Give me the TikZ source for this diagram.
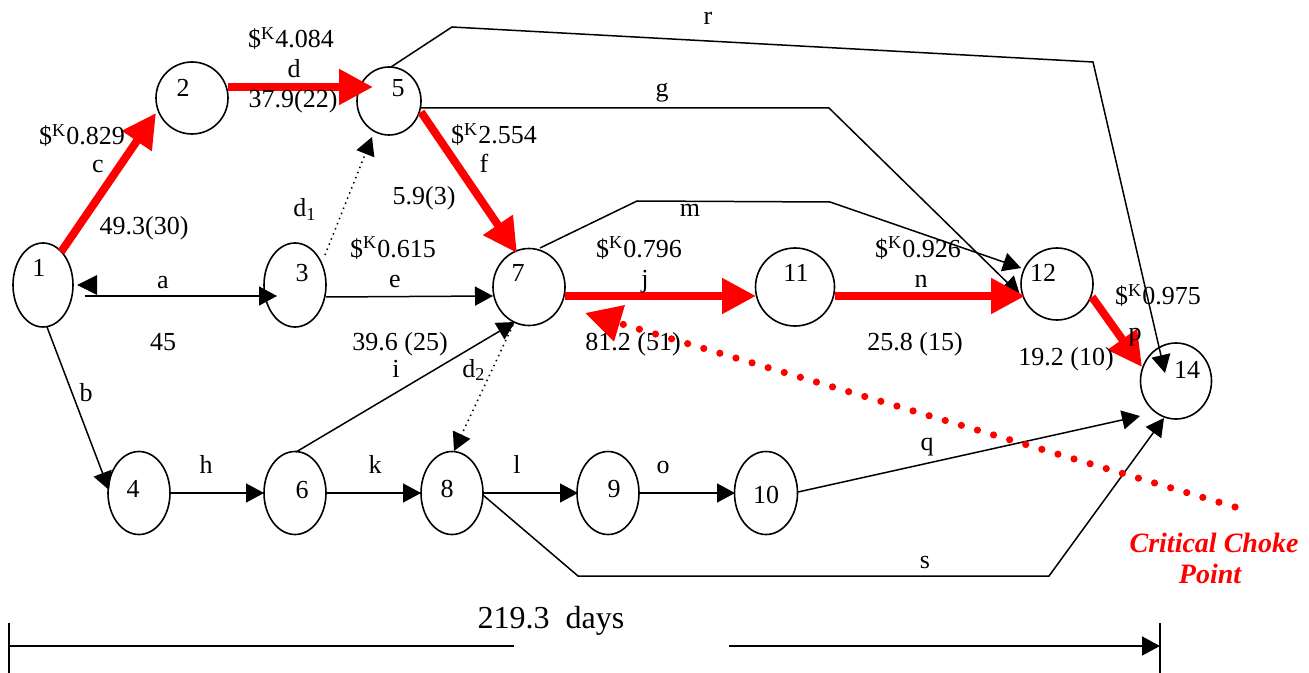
\documentclass[tikz,border=0pt]{standalone}
\usepackage{fontspec}
\setmainfont{Liberation Serif}
\usetikzlibrary{arrows.meta,calc,shapes.geometric}
\begin{document}
\begin{tikzpicture}[x=0.5pt,y=-0.5pt,
  ev/.style={draw,ellipse,line width=0.8pt,inner sep=0pt,outer sep=0pt},
  lab/.style={anchor=base,inner sep=0pt,font=\fontsize{13}{15}\selectfont},
  arr/.style={line width=0.75pt,-{Triangle[length=9pt,width=9.5pt]}},
  plain/.style={line width=0.75pt},
  crit/.style={line width=4pt,red,-{Triangle[length=17pt,width=17pt]}},
  dotl/.style={line width=0.75pt,dotted,-{Triangle[length=9pt,width=9.5pt]}},
  choke/.style={red,line width=3.6pt,line cap=round,dash pattern=on 0pt off 8.4pt,-{Triangle[length=18pt,width=18pt]}},
  chokelab/.style={anchor=base,inner sep=0pt,text=red,font=\fontsize{14}{16}\selectfont\bfseries\itshape},
]
\useasboundingbox (0,0) rectangle (1309,673);

% events
\node[ev,minimum width=30pt,minimum height=42pt] (n1) at (43,285) {};
\node[ev,minimum width=36pt,minimum height=36pt] (n2) at (192,98) {};
\node[ev,minimum width=32pt,minimum height=34pt] (n5) at (389,101) {};
\node[ev,minimum width=31pt,minimum height=42pt] (n3) at (295,285) {};
\node[ev,minimum width=36pt,minimum height=38.5pt] (n7) at (529,287) {};
\node[ev,minimum width=39.5pt,minimum height=39pt] (n11) at (795,287) {};
\node[ev,minimum width=36pt,minimum height=36pt] (n12) at (1057,284) {};
\node[ev,minimum width=35.5pt,minimum height=38pt] (n14) at (1176,381) {};
\node[ev,minimum width=31pt,minimum height=41.5pt] (n4) at (139,493) {};
\node[ev,minimum width=31pt,minimum height=41.5pt] (n6) at (295,493) {};
\node[ev,minimum width=31pt,minimum height=41.5pt] (n8) at (452,493) {};
\node[ev,minimum width=31pt,minimum height=41.5pt] (n9) at (608,493) {};
\node[ev,minimum width=31.5pt,minimum height=41.5pt] (n10) at (766,493) {};

% event numbers
\node[lab] (t1) at (39,277) {1};
\node[lab] (t2) at (183,97) {2};
\node[lab] (t5) at (398,97) {5};
\node[lab] (t3) at (302,282) {3};
\node[lab] (t7) at (518,282) {7};
\node[lab] (t11) at (796,282) {11};
\node[lab] (t12) at (1043,282) {12};
\node[lab] (t14) at (1187,378) {14};
\node[lab] (t4) at (133,497) {4};
\node[lab] (t6) at (302,498) {6};
\node[lab] (t8) at (447,497) {8};
\node[lab] (t9) at (614,497) {9};
\node[lab] (t10) at (766,503) {10};

% black activities
\fill ($(n1)+(34,0)$) -- ($(n1)+(54,-10)$) -- ($(n1)+(54,10)$) -- cycle;
\draw[arr] ($(n1)+(42,11)$) -- ($(n3)+(-18,11)$);
\draw[arr] ($(n3)+(31,12)$) -- ($(n7)+(-36,9)$);
\draw[dotl] ($(n3)+(30,-30)$) -- ($(n5)+(-17,36)$);
\draw[arr] ($(n1)+(4,42)$) -- ($(n4)+(-30,-3)$);
\draw[arr] ($(n4)+(31,0)$) -- ($(n6)+(-31,0)$);
\draw[arr] ($(n6)+(31,0)$) -- ($(n8)+(-31,0)$);
\draw[arr] ($(n8)+(32,0)$) -- ($(n9)+(-30,0)$);
\draw[arr] ($(n9)+(31,0)$) -- ($(n10)+(-31,0)$);
\draw[arr] ($(n6)+(1,-41)$) -- ($(n7)+(-14,35)$);
\draw[dotl] ($(n7)+(-16,38)$) -- ($(n8)+(2,-42)$);
\draw[arr] ($(n10)+(32,-1)$) -- ($(n14)+(-36,35)$);
\coordinate (s1) at (578,576);
\coordinate (s2) at (1049,576);
\draw[arr] ($(n8)+(31,2)$) -- (s1) -- (s2) -- ($(n14)+(-12,37)$);
\coordinate (r1) at (452,27);
\coordinate (r2) at (1093,62);
\draw[arr] ($(n5)+(2,-34)$) -- (r1) -- (r2) -- ($(n14)+(-11,-8)$);
\coordinate (g1) at (829,108);
\draw[arr] ($(n5)+(32,7)$) -- (g1) -- ($(n12)+(-37,11)$);
\coordinate (m1) at (637,201);
\coordinate (m2) at (830,202);
\draw[arr] ($(n7)+(11,-39)$) -- (m1) -- (m2) -- ($(n12)+(-36,-16)$);

% critical path
\draw[crit] ($(n1)+(18,-33)$) -- ($(n2)+(-36,15)$);
\draw[crit] ($(n2)+(36,-11)$) -- ($(n5)+(-16,-14)$);
\draw[crit] ($(n5)+(32,11)$) -- ($(n7)+(-12,-34)$);
\draw[crit] ($(n7)+(36,9)$) -- ($(n11)+(-39,9)$);
\draw[crit] ($(n11)+(40,9)$) -- ($(n12)+(-32,12)$);
\draw[crit] ($(n12)+(35,13)$) -- ($(n14)+(-34,-14)$);

% activity labels
\node[lab] (lc1) at (82,145) {\$\textsuperscript{K}0.829};
\node[lab] (lc2) at (98,173) {c};
\node[lab] (lc3) at (144,235) {49.3(30)};
\node[lab] (ld1) at (291,48) {\$\textsuperscript{K}4.084};
\node[lab] (ld2) at (294,78) {d};
\node[lab] (ld3) at (293,108) {37.9(22)};
\node[lab] (lf1) at (494,144) {\$\textsuperscript{K}2.554};
\node[lab] (lf2) at (484,173) {f};
\node[lab] (lf3) at (424,205) {5.9(3)};
\node[lab] (ldd1) at (305,217) {d\textsubscript{1}};
\node[lab] (le1) at (393,257) {\$\textsuperscript{K}0.615};
\node[lab] (le2) at (395,287) {e};
\node[lab] (la1) at (163,288) {a};
\node[lab] (la2) at (163,350) {45};
\node[lab] (li1) at (400,350) {39.6 (25)};
\node[lab] (li2) at (396,377) {i};
\node[lab] (ldd2) at (474,377) {d\textsubscript{2}};
\node[lab] (lb) at (86,401) {b};
\node[lab] (lh) at (206,473) {h};
\node[lab] (lk) at (375,473) {k};
\node[lab] (ll) at (517,473) {l};
\node[lab] (lo) at (663,473) {o};
\node[lab] (lg) at (662,97) {g};
\node[lab] (lr) at (708,25) {r};
\node[lab] (lm) at (690,217) {m};
\node[lab] (lj1) at (639,257) {\$\textsuperscript{K}0.796};
\node[lab] (lj2) at (645,287) {j};
\node[lab] (lj3) at (633,350) {81.2 (51)};
\node[lab] (ln1) at (918,257) {\$\textsuperscript{K}0.926};
\node[lab] (ln2) at (921,287) {n};
\node[lab] (ln3) at (915,350) {25.8 (15)};
\node[lab] (lp1) at (1158,305) {\$\textsuperscript{K}0.975};
\node[lab] (lp2) at (1135,340) {p};
\node[lab] (lp3) at (1066,365) {19.2 (10)};
\node[lab] (lq) at (927,450) {q};
\node[lab] (ls) at (925,568) {s};

% duration bar
\coordinate (dL) at (9,646);
\coordinate (dR) at (1160,646);
\draw[plain] ($(dL)+(0,-23)$) -- ($(dL)+(0,27)$);
\draw[plain] (dL) -- ($(dL)+(505,0)$);
\draw[arr] ($(dR)+(-431,0)$) -- (dR);
\draw[plain] ($(dR)+(0,-23)$) -- ($(dR)+(0,27)$);
\node[anchor=base,inner sep=0pt,font=\fontsize{16}{18}\selectfont] (dur) at (551,628) {219.3\ \ days};

% critical choke point
\coordinate (ck) at (1235,507);
\draw[choke] (ck) -- ($(n7)+(56,26)$);
\node[chokelab] (ck1) at (1214,552) {Critical Choke};
\node[chokelab] (ck2) at (1210,583) {Point};
\end{tikzpicture}
\end{document}
